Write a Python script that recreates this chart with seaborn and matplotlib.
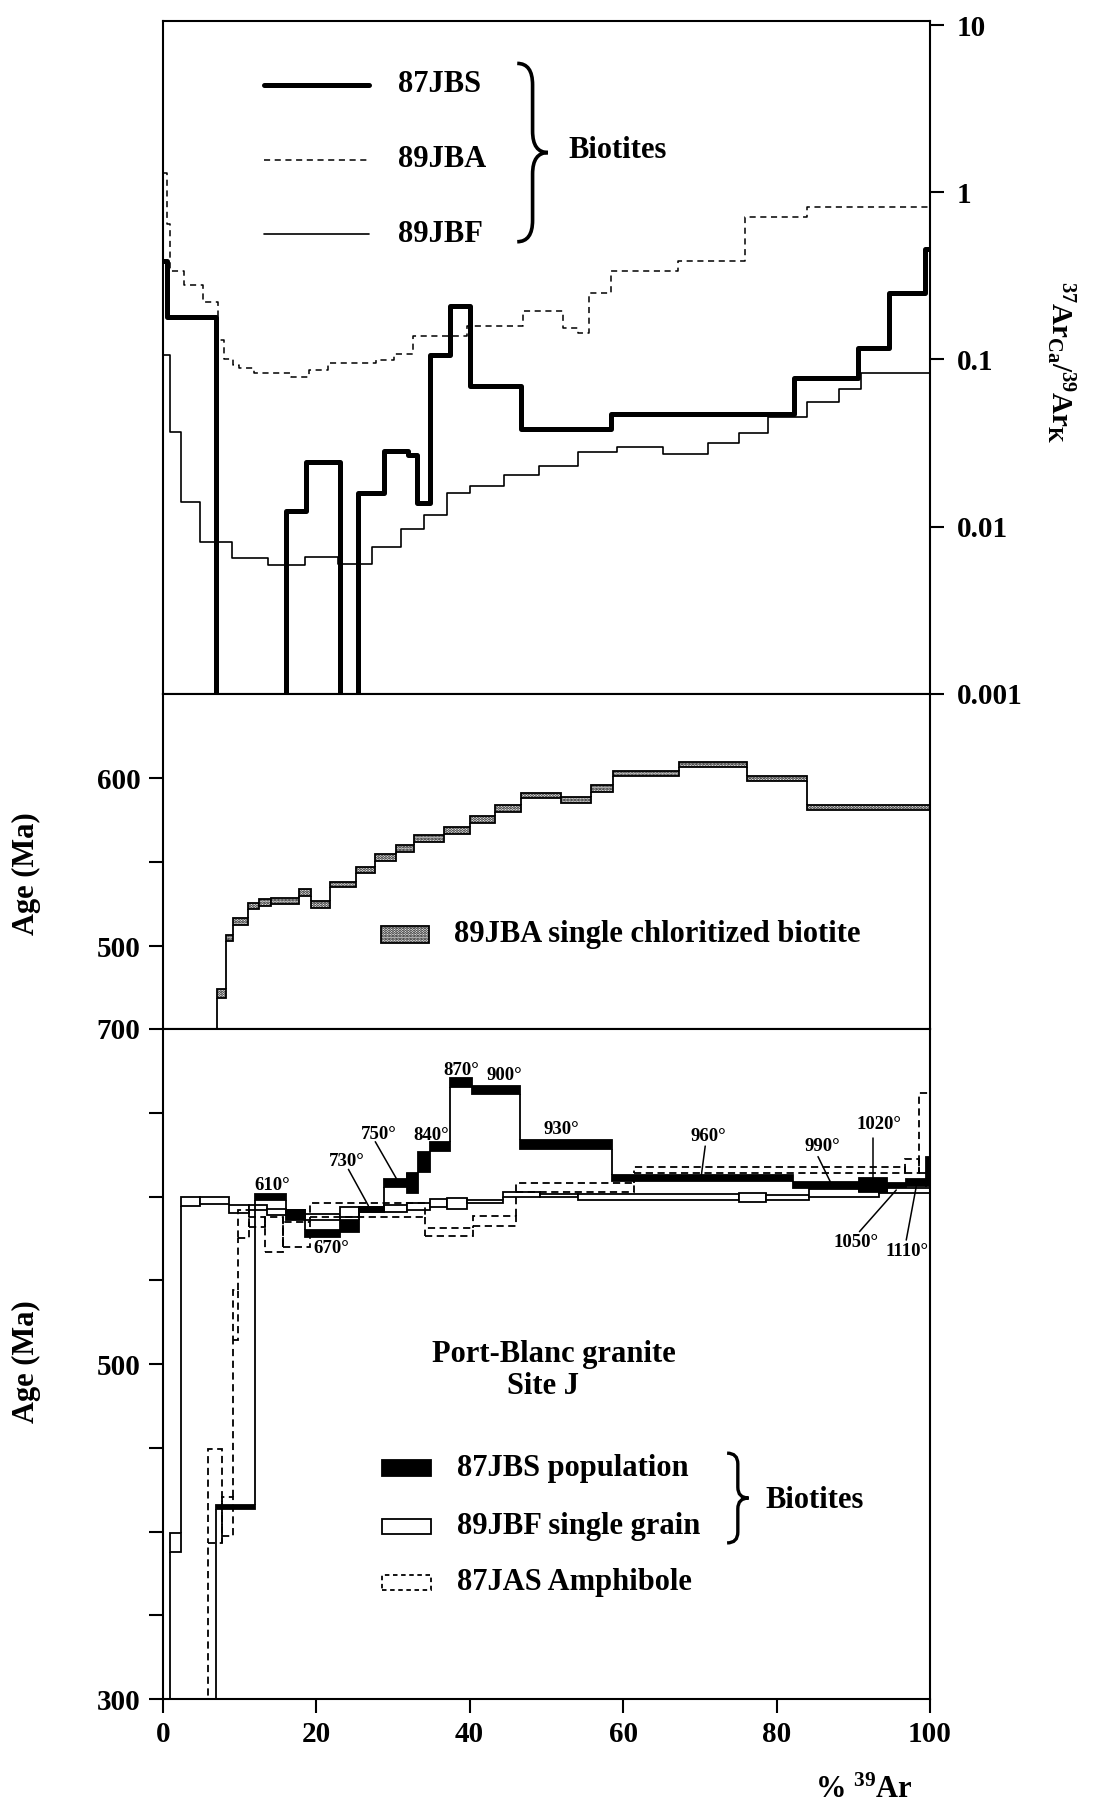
import matplotlib
matplotlib.use("Agg")
import matplotlib.pyplot as plt
from matplotlib.path import Path
from matplotlib.patches import PathPatch, Rectangle
from matplotlib.ticker import NullLocator
import numpy as np
import seaborn as sns

# ---------------- top panel: 37ArCa/39ArK (step edges in %39Ar, one value per step)
jbs_ca_edges = [0, 0.55, 6.9, 16.1, 18.7, 23.1, 25.4, 28.9, 32.0, 33.1, 34.8, 37.4,
                40.1, 46.7, 58.4, 82.3, 90.6, 94.6, 99.4, 100]
jbs_ca = [0.39, 0.18, 1e-5, 0.0124, 0.0244, 1e-5, 0.0158, 0.0284, 0.0267, 0.0138,
          0.106, 0.209, 0.069, 0.0386, 0.047, 0.078, 0.117, 0.251, 0.46]

jba_ca_edges = [0, 0.5, 1.0, 2.8, 5.2, 7.2, 8.0, 9.1, 9.9, 11.9, 16.7, 19.1, 21.5,
                27.8, 30.2, 32.6, 39.7, 46.9, 52.1, 54.1, 55.6, 58.4, 67.2, 75.9, 83.9, 100]
jba_ca = [1.3, 0.65, 0.34, 0.28, 0.22, 0.13, 0.10, 0.093, 0.089, 0.083, 0.079, 0.086,
          0.095, 0.099, 0.108, 0.138, 0.158, 0.194, 0.155, 0.145, 0.25, 0.34, 0.39, 0.71, 0.82]

jbf_ca_edges = [0, 1.0, 2.4, 4.9, 9.0, 13.7, 18.5, 22.8, 27.3, 31.0, 34.0, 37.0, 40.1,
                44.5, 49.0, 54.1, 59.2, 65.2, 71.0, 75.1, 78.9, 83.9, 88.2, 91.0, 100]
jbf_ca = [0.106, 0.037, 0.014, 0.0081, 0.0065, 0.0059, 0.0066, 0.006, 0.0076, 0.0097,
          0.0117, 0.0158, 0.0174, 0.0205, 0.023, 0.0279, 0.030, 0.0272, 0.0316, 0.0363,
          0.045, 0.056, 0.067, 0.083]

# ---------------- middle panel: 89JBA age spectrum (Ma)
jba_edges = [0, 7.1, 8.2, 9.2, 11.1, 12.5, 14.1, 17.7, 19.3, 21.8, 25.2, 27.7, 30.4,
             32.8, 36.7, 40.1, 43.3, 46.7, 51.9, 55.8, 58.7, 67.3, 76.2, 83.9, 100]
jba_age = [440, 472, 505, 515, 524, 526, 527, 532, 525, 537, 545.5, 553, 558, 564,
           569, 575.6, 582, 589.5, 587, 594, 603, 608, 600, 582.8]
jba_err = [2, 2.5, 2, 2, 2, 2, 2, 2, 2, 1.5, 2, 2, 2, 2, 2, 2, 2, 1.5, 2, 2,
           1.5, 1.5, 1.5, 1.5]

# ---------------- bottom panel: age spectra (box bottom / top, Ma)
jbs_edges = [0, 7.0, 12.0, 16.1, 18.5, 23.1, 25.6, 28.9, 31.8, 33.3, 34.8, 37.5, 40.3,
             46.6, 58.5, 82.2, 90.8, 94.4, 96.9, 99.5, 100]
jbs_lo = [250, 413.3, 597.9, 586.0, 576.0, 579.0, 590.9, 605.9, 601.9, 614.8, 627.3,
          665.6, 661.2, 628.2, 609.4, 604.9, 602.9, 605.5, 606.3, 606.3]
jbs_hi = [260, 415.8, 601.5, 591.9, 580.0, 586.0, 593.5, 610.3, 613.8, 626.8, 632.7,
          670.6, 666.0, 633.7, 612.8, 608.8, 610.9, 607.9, 610.3, 623.8]

jbf_edges = [0, 1.0, 2.4, 4.9, 8.6, 11.3, 13.6, 16.1, 18.5, 23.1, 25.6, 28.9, 31.8,
             34.8, 37.0, 39.7, 44.3, 49.2, 54.1, 75.1, 78.6, 84.2, 93.4, 100]
jbf_lo = [250, 387.9, 594.5, 595.6, 590.0, 592.0, 589.0, 589.0, 586.0, 588.0, 591.0,
          591.0, 592.0, 593.5, 592.3, 595.9, 599.5, 599.5, 597.7, 596.9, 597.9, 599.5, 601.9]
jbf_hi = [260, 398.9, 600.0, 600.0, 594.9, 594.9, 592.3, 592.0, 589.6, 593.5, 594.0,
          594.9, 596.0, 598.5, 598.9, 597.9, 602.9, 601.5, 601.5, 601.9, 600.9, 604.3, 604.9]

jas_edges = [0, 5.9, 7.7, 9.2, 9.8, 11.2, 13.3, 15.7, 19.2, 34.2, 40.5, 46.0, 61.4,
             96.7, 98.5, 100]
jas_lo = [250, 393.0, 397.3, 514.3, 575.0, 582.0, 567.0, 570.0, 588.0, 576.4, 582.4,
          602.9, 613.9, 613.9, 613.9]
jas_hi = [260, 449.3, 420.8, 544.2, 591.9, 588.0, 588.0, 585.0, 596.0, 581.0, 588.4,
          608.2, 617.4, 622.2, 661.6]

# temperature steps of 87JBS
temp_labels = ['610°', '670°', '730°', '750°', '840°', '870°', '900°', '930°',
               '960°', '990°', '1020°', '1050°', '1110°']
temp_x = [14.2, 22.0, 24.0, 28.1, 35.0, 38.9, 44.5, 51.9, 71.1, 85.9, 93.3, 90.4, 97.0]
temp_y = [606.3, 569.1, 620.8, 637.3, 636.5, 675.1, 672.5, 640.1, 635.7, 629.7,
          642.7, 572.4, 567.1]
leaders = {'730°': (24.2, 616.2, 26.8, 594.5),
           '750°': (27.7, 632.7, 30.5, 610.3),
           '960°': (70.7, 630.1, 70.2, 612.8),
           '990°': (85.4, 623.8, 87.0, 608.8),
           '1020°': (92.6, 634.7, 92.6, 610.9),
           '1050°': (90.8, 579.0, 95.6, 603.9),
           '1110°': (96.9, 574.0, 98.2, 605.9)}

sns.set_style('ticks', {'axes.edgecolor': 'black', 'xtick.color': 'black',
                        'ytick.color': 'black', 'text.color': 'black'})
plt.rcParams['font.family'] = ['Liberation Serif', 'DejaVu Serif']
plt.rcParams['font.weight'] = 'bold'
plt.rcParams['mathtext.fontset'] = 'custom'
plt.rcParams['mathtext.rm'] = 'Liberation Serif:bold'
plt.rcParams['mathtext.it'] = 'Liberation Serif:bold'
plt.rcParams['mathtext.bf'] = 'Liberation Serif:bold'
plt.rcParams['mathtext.default'] = 'rm'
plt.rcParams['hatch.linewidth'] = 1.4

TICK = 21
TXT = 22


def step_line(ax, edges, vals, **kw):
    sns.lineplot(x=edges, y=list(vals) + [vals[-1]], drawstyle='steps-post',
                 estimator=None, sort=False, color='black', legend=False, ax=ax, **kw)


def box_spectrum(ax, edges, lo, hi, face, ls='-', hatch=None, z=2, lw=1.3):
    edges = np.asarray(edges, float)
    lo = np.asarray(lo, float)
    hi = np.asarray(hi, float)
    ax.bar(edges[:-1], hi - lo, width=np.diff(edges), bottom=lo, align='edge',
           facecolor=face, edgecolor='black', linewidth=lw, linestyle=ls,
           hatch=hatch, zorder=z)
    y0, y1 = [], []
    for i in range(1, len(lo)):
        if (lo[i] + hi[i]) >= (lo[i - 1] + hi[i - 1]):
            y0.append(hi[i - 1]); y1.append(lo[i])
        else:
            y0.append(lo[i - 1]); y1.append(hi[i])
    ax.vlines(edges[1:-1], y0, y1, colors='black', linewidth=lw, linestyles=ls,
              zorder=z - 0.1)


def brace(ax, xl, xr, yb, yt, lw=2.6):
    xm = (xl + xr) / 2
    ym = (yb + yt) / 2
    ry = (yt - yb) * 0.12
    verts = [(xl, yt), (xm, yt), (xm, yt - ry), (xm, ym + ry), (xm, ym), (xr, ym),
             (xm, ym), (xm, ym - ry), (xm, yb + ry), (xm, yb), (xl, yb)]
    codes = [Path.MOVETO, Path.CURVE3, Path.CURVE3, Path.LINETO, Path.CURVE3, Path.CURVE3,
             Path.CURVE3, Path.CURVE3, Path.LINETO, Path.CURVE3, Path.CURVE3]
    ax.add_patch(PathPatch(Path(verts, codes), facecolor='none', edgecolor='black',
                           linewidth=lw, transform=ax.transAxes, clip_on=False))


fig = plt.figure(figsize=(10.93, 18.10), dpi=100)
L, W = 0.1489, 0.702
ax1 = fig.add_axes([L, 0.6166, W, 0.3718])
ax2 = fig.add_axes([L, 0.4315, W, 0.1851])
ax3 = fig.add_axes([L, 0.0613, W, 0.3702])

for ax in (ax1, ax2, ax3):
    for s in ax.spines.values():
        s.set_linewidth(1.5)
        s.set_visible(True)
    ax.set_xlim(0, 100)

# ---- top panel
ax1.set_yscale('log')
step_line(ax1, jbs_ca_edges, jbs_ca, linewidth=3.6)
step_line(ax1, jba_ca_edges, jba_ca, linewidth=1.1, linestyle=(0, (4, 3)))
step_line(ax1, jbf_ca_edges, jbf_ca, linewidth=1.2)
ax1.set_ylim(0.001, 10.57)
ax1.set_xlim(0, 100)
ax1.set_xticks([])
ax1.set_yticks([10, 1, 0.1, 0.01, 0.001])
ax1.set_yticklabels(['10', '1', '0.1', '0.01', '0.001'])
ax1.yaxis.set_minor_locator(NullLocator())
ax1.tick_params(axis='y', which='both', left=False, labelleft=False, right=True,
                labelright=True, labelsize=TICK, length=10, width=1.5, pad=9)
ax1.set_xlabel('')
ax1.set_ylabel('')

legend_rows = [('87JBS', 3.6, '-'), ('89JBA', 1.1, (0, (4, 3))), ('89JBF', 1.2, '-')]
for (name, lw, ls), yy in zip(legend_rows, [0.905, 0.794, 0.683]):
    ax1.plot([0.1315, 0.2682], [yy, yy], color='black', linewidth=lw, linestyle=ls,
             transform=ax1.transAxes)
    ax1.text(0.307, yy, name, transform=ax1.transAxes, fontsize=TXT, va='center',
             ha='left')
brace(ax1, 0.462, 0.502, 0.672, 0.937)
ax1.text(0.5284, 0.808, 'Biotites', transform=ax1.transAxes, fontsize=TXT,
         va='center', ha='left')
fig.text(0.970, 0.800, r'$^{37}$Ar$_{Ca}$/$^{39}$Ar$_{K}$', rotation=270,
         ha='center', va='center', fontsize=21)

# ---- middle panel
box_spectrum(ax2, jba_edges, np.array(jba_age) - np.array(jba_err),
             np.array(jba_age) + np.array(jba_err), 'white', hatch='......', lw=1.3)
ax2.set_ylim(451, 650)
ax2.set_xlim(0, 100)
ax2.set_xticks([])
ax2.set_yticks([500, 550, 600])
ax2.set_yticklabels(['500', '', '600'])
ax2.tick_params(axis='y', labelsize=TICK, length=10, width=1.5, pad=6)
ax2.set_xlabel('')
ax2.set_ylabel('')
ax2.add_patch(Rectangle((0.285, 0.257), 0.062, 0.051, transform=ax2.transAxes,
                        facecolor='white', edgecolor='black', hatch='......',
                        linewidth=1.3))
ax2.text(0.380, 0.283, '89JBA single chloritized biotite', transform=ax2.transAxes,
         fontsize=TXT, va='center', ha='left')
fig.text(0.0238, 1 - 874 / 1810, 'Age (Ma)', rotation=90, ha='center', va='center',
         fontsize=TXT)

# ---- bottom panel
box_spectrum(ax3, jbf_edges, jbf_lo, jbf_hi, 'white', z=2)
box_spectrum(ax3, jbs_edges, jbs_lo, jbs_hi, 'black', z=3)
box_spectrum(ax3, jas_edges, jas_lo, jas_hi, 'none', ls=(0, (4, 2.5)), z=4)
ax3.set_ylim(300, 700)
ax3.set_xlim(0, 100)
ax3.set_yticks(np.arange(300, 701, 50))
ax3.set_yticklabels(['300', '', '', '', '500', '', '', '', '700'])
ax3.set_xticks([0, 20, 40, 60, 80, 100])
ax3.set_xticklabels(['0', '20', '40', '60', '80', '100'])
ax3.tick_params(axis='both', labelsize=TICK, length=10, width=1.5, pad=6)
ax3.set_xlabel('')
ax3.set_ylabel('')

for lab, tx, ty in zip(temp_labels, temp_x, temp_y):
    ax3.text(tx, ty, lab, fontsize=13.5, ha='center', va='center', zorder=6)
    if lab in leaders:
        x0, y0, x1, y1 = leaders[lab]
        ax3.plot([x0, x1], [y0, y1], color='black', linewidth=1.1, zorder=6)

ax3.text(0.5099, 0.5141, 'Port-Blanc granite', transform=ax3.transAxes, fontsize=TXT,
         ha='center', va='center')
ax3.text(0.4956, 0.4666, 'Site J', transform=ax3.transAxes, fontsize=TXT,
         ha='center', va='center')

rows = [('87JBS population', 'black', '-'), ('89JBF single grain', 'white', '-'),
        ('87JAS Amphibole', 'none', (0, (2.5, 2)))]
for (name, fc, ls), yy in zip(rows, [0.3447, 0.2571, 0.1738]):
    ax3.add_patch(Rectangle((0.2852, yy - 0.0115), 0.0645, 0.023, transform=ax3.transAxes,
                            facecolor=fc, edgecolor='black', linewidth=1.3,
                            linestyle=ls))
    ax3.text(0.3836, yy, name, transform=ax3.transAxes, fontsize=TXT, ha='left',
             va='center')
brace(ax3, 0.7355, 0.7635, 0.233, 0.367, lw=2.4)
ax3.text(0.785, 0.2957, 'Biotites', transform=ax3.transAxes, fontsize=TXT,
         ha='left', va='center')
fig.text(0.0238, 1 - 1362 / 1810, 'Age (Ma)', rotation=90, ha='center', va='center',
         fontsize=TXT)
fig.text(0.79, 0.011, r'% $^{39}$Ar', ha='center', va='center', fontsize=TXT)

fig.savefig('out.png', dpi=100)
